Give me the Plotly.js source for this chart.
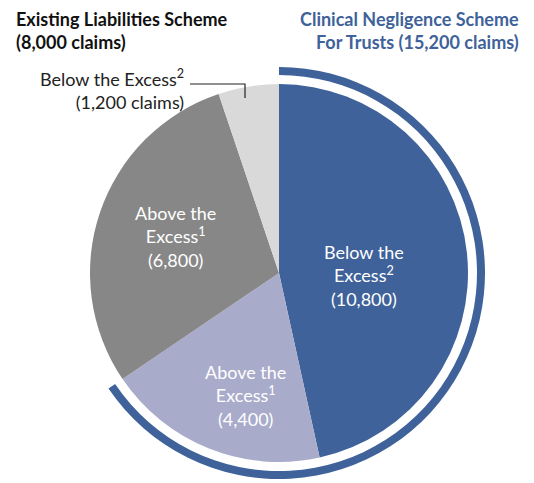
<!DOCTYPE html>
<html>
<head>
<meta charset="utf-8">
<script src="https://cdn.plot.ly/plotly-3.0.1.min.js"></script>
<style>html,body{margin:0;padding:0;background:#fff;}#chart{width:534px;height:483px;}</style>
</head>
<body>
<div id="chart"></div>
<script>
// Data
const sliceLabels = ["CNST Below the Excess", "CNST Above the Excess", "ELS Above the Excess", "ELS Below the Excess"];
const sliceValues = [10800, 4400, 6800, 1200];
const sliceColors = ["#3e6299", "#a9abcb", "#878787", "#d9d9d9"];
const schemeLabels = ["CNST", "ELS"];
const schemeValues = [15200, 8000];
const schemeColors = ["#3e6299", "rgba(0,0,0,0)"];

const W = 534, H = 483;
const px = x => x / W;
const py = y => 1 - y / H;
const fmt = v => v.toLocaleString("en-US");
const font = "Lato, 'Open Sans', sans-serif";

const pie = {
  type: "pie",
  labels: sliceLabels,
  values: sliceValues,
  marker: {colors: sliceColors, line: {width: 0}},
  sort: false,
  direction: "clockwise",
  rotation: 0,
  textinfo: "none",
  hoverinfo: "label+value",
  domain: {x: [px(90), px(468)], y: [py(462), py(84)]},
  showlegend: false
};
const ring = {
  type: "pie",
  labels: schemeLabels,
  values: schemeValues,
  marker: {colors: schemeColors, line: {width: 0}},
  sort: false,
  direction: "clockwise",
  rotation: 0,
  hole: 198 / 206,
  textinfo: "none",
  hoverinfo: "skip",
  domain: {x: [px(73), px(485)], y: [py(479), py(67)]},
  showlegend: false
};

const inLabel = (txt, x, y) => ({
  xref: "paper", yref: "paper", x: px(x), y: py(y), xanchor: "center", yanchor: "middle",
  text: txt, showarrow: false, align: "center",
  font: {family: font, size: 18, color: "#ffffff"}
});

const layout = {
  width: W, height: H,
  margin: {l: 0, r: 0, t: 0, b: 0},
  paper_bgcolor: "#ffffff",
  showlegend: false,
  annotations: [
    {xref: "paper", yref: "paper", x: px(14), y: py(30.5), xanchor: "left", yanchor: "middle", align: "left",
     showarrow: false, text: "<b>Existing Liabilities Scheme</b><br><b>(" + fmt(schemeValues[1]) + " claims)</b>",
     font: {family: font, size: 18, color: "#111111"}},
    {xref: "paper", yref: "paper", x: px(521), y: py(30.5), xanchor: "right", yanchor: "middle", align: "right",
     showarrow: false, text: "<b>Clinical Negligence Scheme</b><br><b>For Trusts (" + fmt(schemeValues[0]) + " claims)</b>",
     font: {family: font, size: 18, color: "#3e6299"}},
    inLabel("Below the<br>Excess<sup>2</sup><br>(" + fmt(sliceValues[0]) + ")", 364, 275),
    inLabel("Above the<br>Excess<sup>1</sup><br>(" + fmt(sliceValues[1]) + ")", 245, 395),
    inLabel("Above the<br>Excess<sup>1</sup><br>(" + fmt(sliceValues[2]) + ")", 175, 236),
    {xref: "paper", yref: "paper", x: px(186), y: py(89.5), xanchor: "right", yanchor: "middle", align: "right",
     showarrow: false, text: "Below the Excess<sup>2</sup><br>(" + fmt(sliceValues[3]) + " claims)",
     font: {family: font, size: 18, color: "#222222"}}
  ],
  shapes: [
    {type: "path", xref: "paper", yref: "paper",
     path: "M " + px(190) + " " + py(84) + " L " + px(245) + " " + py(84) + " L " + px(245) + " " + py(98),
     line: {color: "#222222", width: 1.2}}
  ]
};

Plotly.newPlot("chart", [ring, pie], layout, {displayModeBar: false, staticPlot: true});
</script>
</body>
</html>
